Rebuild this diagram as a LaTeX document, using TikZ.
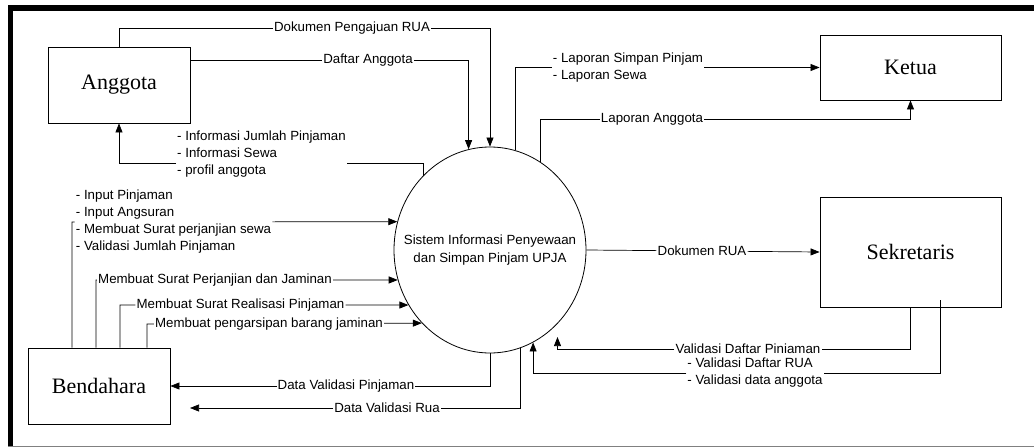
\documentclass[tikz,border=0pt]{standalone}
\usepackage{fontspec}
\setmainfont{Liberation Serif}
\newfontfamily\arialfont{Liberation Sans}
\usetikzlibrary{shapes.geometric, arrows.meta}

\begin{document}
\begin{tikzpicture}[x=1pt, y=-1pt, >={Triangle[length=9pt, width=7pt]},
    entity/.style={draw, line width=0.9pt, inner sep=0pt, font=\fontsize{22}{26}\selectfont},
    proc/.style={draw, ellipse, line width=0.8pt, inner sep=0pt, minimum width=192pt, minimum height=206pt,
        font=\arialfont\fontsize{13.3}{18}\selectfont},
    flow/.style={line width=0.7pt},
    lbl/.style={inner sep=1pt, align=left, font=\arialfont\fontsize{13.3}{17}\selectfont}]
    \useasboundingbox (0,0) rectangle (1034,447);

    % Frame
    \draw[line width=5.5pt] (10.5,447) -- (10.5,8) -- (1034,8);
    \draw[gray, line width=1pt] (8,446) -- (1034,446);

    % Entities and process
    \node[entity, minimum width=142pt, minimum height=76pt] (anggota) at (119,85) {Anggota};
    \node[entity, minimum width=181pt, minimum height=65pt] (ketua) at (910.5,67.5) {Ketua};
    \node[entity, minimum width=181pt, minimum height=110pt] (sekre) at (910.5,252) {Sekretaris};
    \node[entity, minimum width=142pt, minimum height=76pt] (bendahara) at (99,386) {Bendahara};
    \node[proc] (sys) at (490,250)
        {\makebox[0pt]{\begin{tabular}{@{}c@{}}Sistem Informasi Penyewaan\\dan Simpan Pinjam UPJA\end{tabular}}};

    % Flow labels
    \node[lbl] (lDPR) at (352,28) {Dokumen Pengajuan RUA};
    \node[lbl] (lDA) at (368,60) {Daftar Anggota};
    \node[lbl] (lInfo) at (261.5,154) {- Informasi Jumlah Pinjaman\\- Informasi Sewa\\- profil anggota};
    \node[lbl] (lLSP) at (628,67.5) {- Laporan Simpan Pinjam\\- Laporan Sewa};
    \node[lbl] (lLA) at (652,119) {Laporan Anggota};
    \node[lbl] (lDR) at (702,251) {Dokumen RUA};
    \node[lbl] (lVDP) at (748,349) {Validasi Daftar Piniaman};
    \node[lbl] (lVDR) at (755,373) {- Validasi Daftar RUA\\- Validasi data anggota};
    \node[lbl] (lDVP) at (346,386) {Data Validasi Pinjaman};
    \node[lbl] (lDVR) at (387,408) {Data Validasi Rua};
    \node[lbl] (lInput) at (173.5,222) {- Input Pinjaman\\- Input Angsuran\\- Membuat Surat perjanjian sewa\\- Validasi Jumlah Pinjaman};
    \node[lbl] (lJam) at (215,280) {Membuat Surat Perjanjian dan Jaminan};
    \node[lbl] (lReal) at (240.5,305) {Membuat Surat Realisasi Pinjaman};
    \node[lbl] (lArsip) at (269,324) {Membuat pengarsipan barang jaminan};

    % Free arrow ends
    \coordinate (dvrEnd) at (190,408);
    \coordinate (vdpEnd) at (557.5,337);

    % Anggota <-> sistem
    \draw[flow, ->] (anggota.north) |- (lDPR) -| (sys.north);
    \draw[flow, ->] ([yshift=25pt]anggota.east) -- (lDA) -| (sys.102.4);
    \draw[flow] (sys.132.2) |- ([yshift=-9pt]lInfo.east);
    \draw[flow, ->] ([yshift=-9pt]lInfo.west) -| (anggota.south);

    % Sistem -> Ketua
    \draw[flow, ->] (sys.76.5) |- (lLSP) -- (ketua.west);
    \draw[flow, ->] (sys.60.4) |- (lLA) -| (ketua.south);

    % Sistem <-> Sekretaris
    \draw[flow, ->] (sys.east) -- (lDR) -- (sekre.west);
    \draw[flow, ->] (sekre.south) |- (lVDP) -| (vdpEnd);
    \draw[flow, ->] ([xshift=29.5pt, yshift=7pt]sekre.south) |- (lVDR) -| (sys.295);

    % Bendahara <-> sistem
    \draw[flow, ->] ([xshift=-27pt]bendahara.north) |- (lInput) -- (sys.163.1);
    \draw[flow, ->] ([xshift=-3pt]bendahara.north) |- (lJam) -- (sys.198.1);
    \draw[flow, ->] ([xshift=21pt]bendahara.north) |- (lReal) -- (sys.214.1);
    \draw[flow, ->] ([xshift=48pt]bendahara.north) |- (lArsip) -- (sys.227.9);
    \draw[flow, ->] (sys.south) |- (lDVP) -- (bendahara.east);
    \draw[flow, ->] (sys.287.1) |- (lDVR) -- (dvrEnd);

\end{tikzpicture}
\end{document}
